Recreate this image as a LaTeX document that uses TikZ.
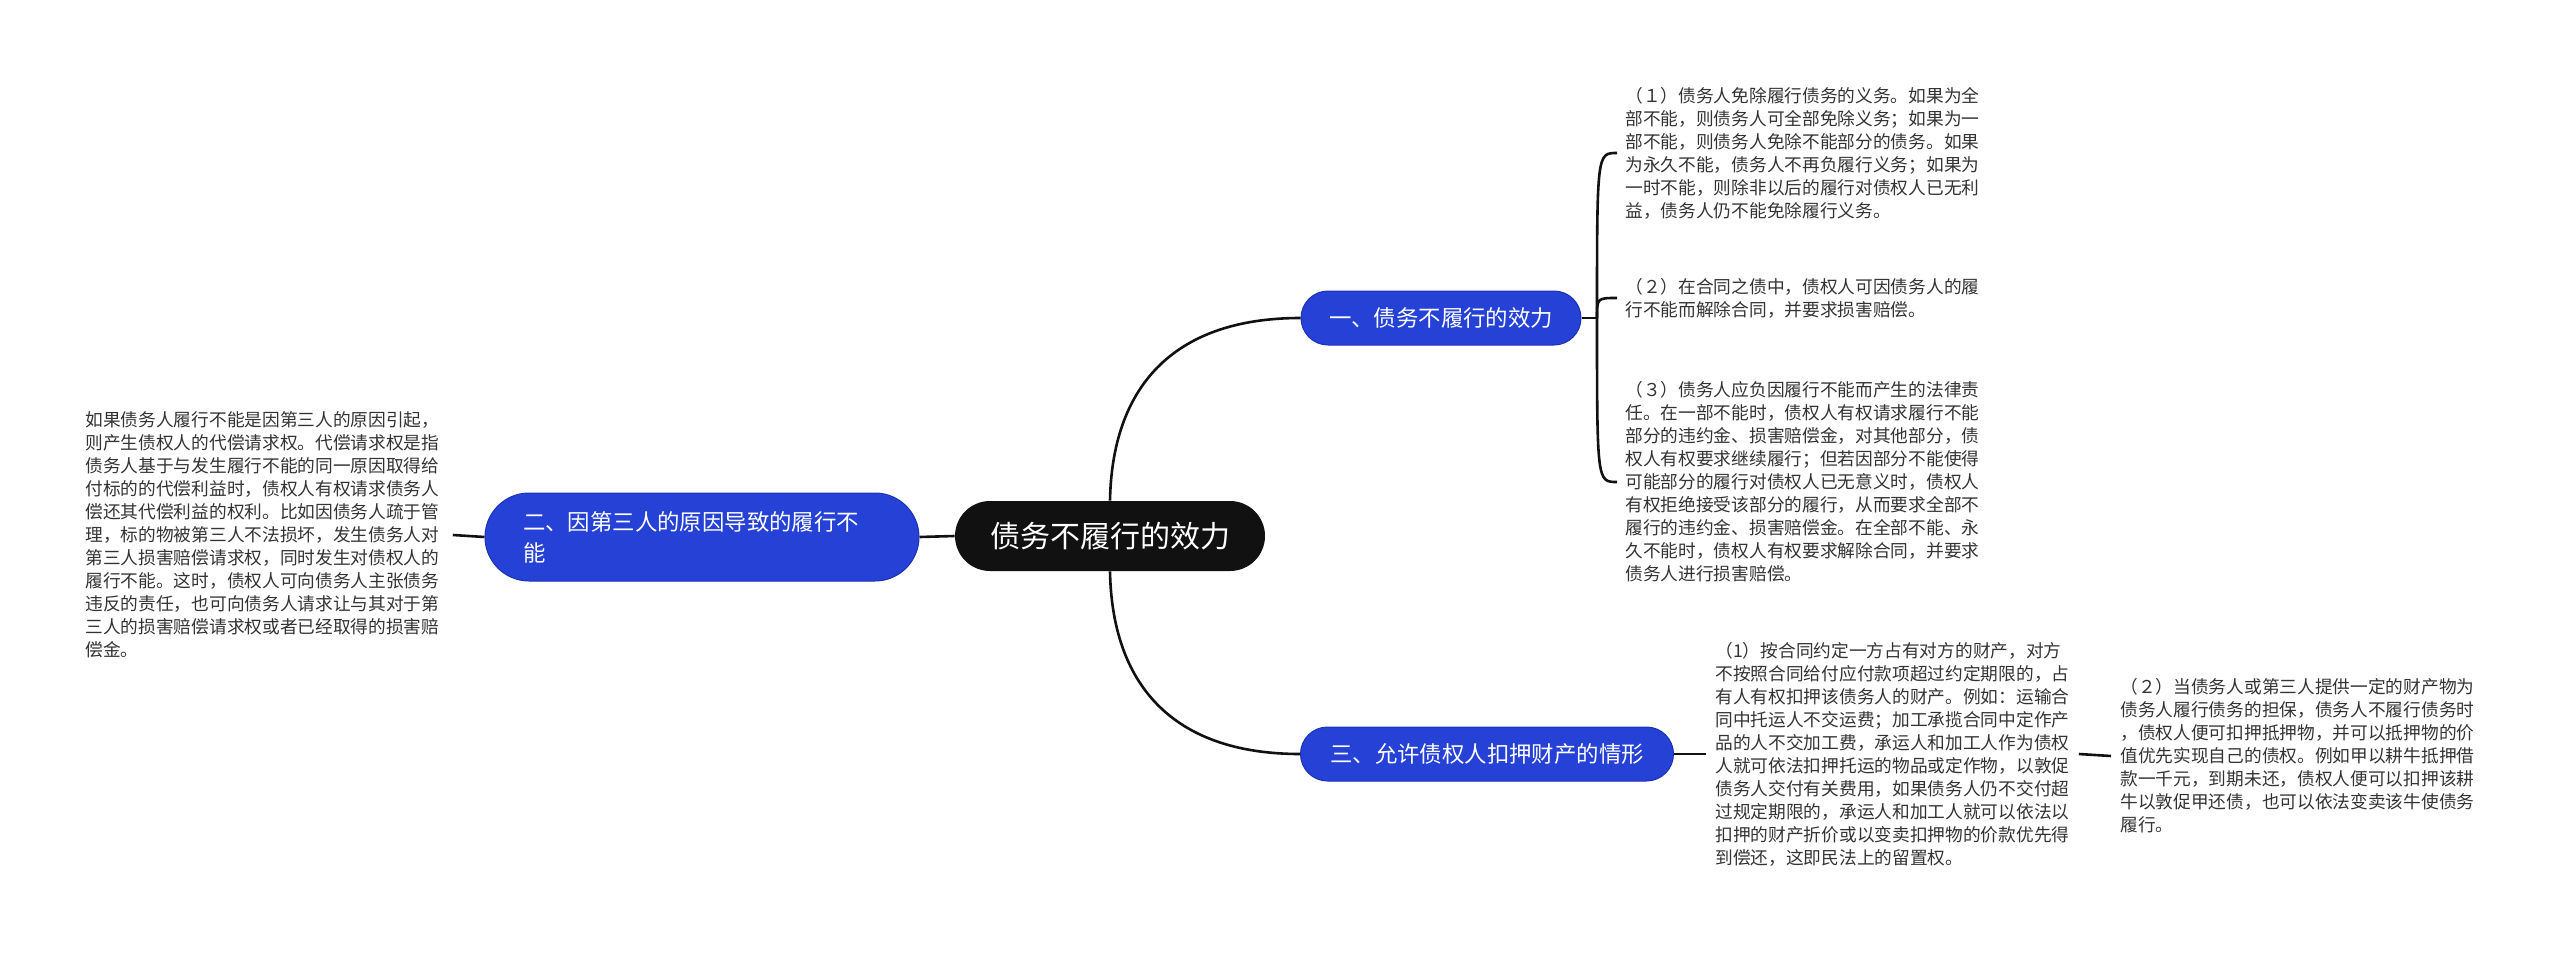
\documentclass[tikz,border=0pt]{standalone}
\usepackage{fontspec}
\setmainfont{Noto Sans CJK SC}
\definecolor{nodeblue}{HTML}{2541D6}
\definecolor{nodeblueline}{HTML}{1C33B4}
\definecolor{rootfill}{HTML}{111111}
\definecolor{bodytext}{HTML}{333333}
\definecolor{connline}{HTML}{111111}
\tikzset{
  rootnode/.style={fill=rootfill, text=white, rounded corners=17.5pt,
    minimum width=155pt, minimum height=35pt, inner sep=0pt,
    font=\fontsize{15pt}{18pt}\selectfont},
  branchnode/.style={fill=nodeblue, draw=nodeblueline, line width=0.5pt, text=white,
    inner sep=0pt, font=\fontsize{11.2pt}{15.5pt}\selectfont},
  bodynode/.style={text=bodytext, align=left, inner ysep=0pt, inner xsep=4pt,
    anchor=west, font=\fontsize{8.85pt}{11.5pt}\selectfont},
  conn/.style={draw=connline, line width=1.3pt}
}
\begin{document}
\begin{tikzpicture}[x=0.5pt,y=-0.5pt]
\useasboundingbox (0,0) rectangle (2560,953);

% root and branches
\node[rootnode] (root) at (1110,536) {债务不履行的效力};
\node[branchnode, rounded corners=22pt, minimum height=44pt, text width=179pt,
      align=left, inner xsep=19pt] (b2) at (702,537)
      {二、因第三人的原因导致的履行不\\能};
\node[branchnode, rounded corners=13.5pt, minimum width=140pt, minimum height=27pt] (b1) at (1441,318)
      {一、债务不履行的效力};
\node[branchnode, rounded corners=13.5pt, minimum width=186.5pt, minimum height=27pt] (b3) at (1487,754)
      {三、允许债权人扣押财产的情形};

% left text
\node[bodynode, inner xsep=6.5pt] (lt) at (72,535) {如果债务人履行不能是因第三人的原因引起，\\
则产生债权人的代偿请求权。代偿请求权是指\\
债务人基于与发生履行不能的同一原因取得给\\
付标的的代偿利益时，债权人有权请求债务人\\
偿还其代偿利益的权利。比如因债务人疏于管\\
理，标的物被第三人不法损坏，发生债务人对\\
第三人损害赔偿请求权，同时发生对债权人的\\
履行不能。这时，债权人可向债务人主张债务\\
违反的责任，也可向债务人请求让与其对于第\\
三人的损害赔偿请求权或者已经取得的损害赔\\
偿金。};

% texts of branch one
\node[bodynode] (t1) at (1617,153) {（１）债务人免除履行债务的义务。如果为全\\
部不能，则债务人可全部免除义务；如果为一\\
部不能，则债务人免除不能部分的债务。如果\\
为永久不能，债务人不再负履行义务；如果为\\
一时不能，则除非以后的履行对债权人已无利\\
益，债务人仍不能免除履行义务。};

\node[bodynode] (t2) at (1617,298) {（２）在合同之债中，债权人可因债务人的履\\
行不能而解除合同，并要求损害赔偿。};

\node[bodynode] (t3) at (1617,482) {（３）债务人应负因履行不能而产生的法律责\\
任。在一部不能时，债权人有权请求履行不能\\
部分的违约金、损害赔偿金，对其他部分，债\\
权人有权要求继续履行；但若因部分不能使得\\
可能部分的履行对债权人已无意义时，债权人\\
有权拒绝接受该部分的履行，从而要求全部不\\
履行的违约金、损害赔偿金。在全部不能、永\\
久不能时，债权人有权要求解除合同，并要求\\
债务人进行损害赔偿。};

% texts of branch three
\node[bodynode, inner xsep=4.5pt] (s1) at (1706,754) {（1）按合同约定一方占有对方的财产，对方\\
不按照合同给付应付款项超过约定期限的，占\\
有人有权扣押该债务人的财产。例如：运输合\\
同中托运人不交运费；加工承揽合同中定作产\\
品的人不交加工费，承运人和加工人作为债权\\
人就可依法扣押托运的物品或定作物，以敦促\\
债务人交付有关费用，如果债务人仍不交付超\\
过规定期限的，承运人和加工人就可以依法以\\
扣押的财产折价或以变卖扣押物的价款优先得\\
到偿还，这即民法上的留置权。};

\node[bodynode, inner xsep=4.5pt] (s2) at (2111,756) {（２）当债务人或第三人提供一定的财产物为\\
债务人履行债务的担保，债务人不履行债务时\\
，债权人便可扣押抵押物，并可以抵押物的价\\
值优先实现自己的债权。例如甲以耕牛抵押借\\
款一千元，到期未还，债权人便可以扣押该耕\\
牛以敦促甲还债，也可以依法变卖该牛使债务\\
履行。};

% connectors
\draw[conn] (root.west) -- (b2.east);
\draw[conn] (b2.west) -- (lt.east);
\draw[conn] (root.north) .. controls (1112,390) and (1170,318) .. (b1.west);
\draw[conn] (root.south) .. controls (1112,682) and (1170,754) .. (b3.west);

\coordinate (j1) at (1597,318);
\draw[conn] (b1.east) -- (j1);
\draw[conn] (j1) .. controls (j1 |- t1.west) .. (t1.west);
\draw[conn] (j1) .. controls (j1 |- t2.west) .. (t2.west);
\draw[conn] (j1) .. controls (j1 |- t3.west) .. (t3.west);

\draw[conn] (b3.east) -- (s1.west);
\draw[conn] (s1.east) -- (s2.west);
\end{tikzpicture}
\end{document}
